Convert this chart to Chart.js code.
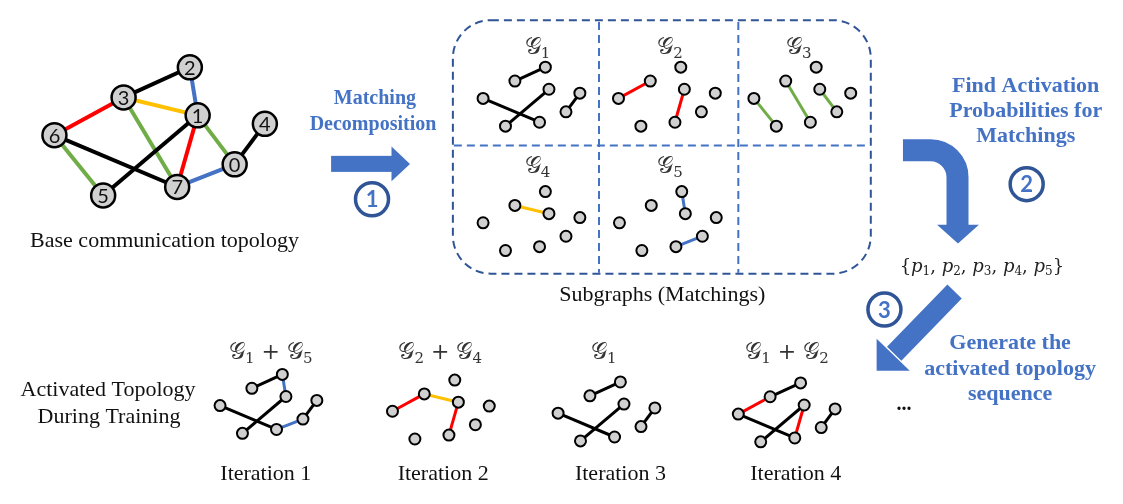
<!DOCTYPE html>
<html>
<head>
<meta charset="utf-8">
<script src="https://cdn.jsdelivr.net/npm/chart.js@4.4.1/dist/chart.umd.min.js"></script>
<style>
  html, body { margin: 0; padding: 0; background: #fff; }
  #wrap { width: 1123px; height: 504px; position: relative; }
</style>
</head>
<body>
<div id="wrap"><canvas id="fig"></canvas></div>
<script>
// Base communication topology: node ids and their positions
const nodeIds = [0, 1, 2, 3, 4, 5, 6, 7];
const baseX = [226, 188, 180, 112, 257, 91, 41, 167];
const baseY = [159, 107, 56, 88, 116, 192, 128, 183];

// Matching decomposition (edges of each subgraph)
const g1Edges = [[3, 2], [6, 7], [5, 1], [0, 4]];
const g2Edges = [[3, 6], [1, 7]];
const g3Edges = [[6, 5], [3, 7], [1, 0]];
const g4Edges = [[3, 1]];
const g5Edges = [[2, 1], [7, 0]];
const matchingEdges = [g1Edges, g2Edges, g3Edges, g4Edges, g5Edges];
const matchingSubs = ['1', '2', '3', '4', '5'];
const matchingColors = ['#000000', '#ff0000', '#70ad47', '#ffc000', '#4472c4'];

// Activated topology per iteration (which matchings were sampled)
const iterationLabels = ['Iteration 1', 'Iteration 2', 'Iteration 3', 'Iteration 4'];
const iterationMatchings = [[0, 4], [1, 3], [0], [0, 1]];

// where node 6 of each mini graph sits
const panelAnchorX = [481, 620, 759, 481, 621];
const panelAnchorY = [89, 89, 89, 221, 221];
const iterAnchorX = [211, 388, 558, 743];
const iterAnchorY = [415, 421, 423, 424];
const MINI = 0.46;

function miniPoint(i, ax, ay) {
    return { x: ax + MINI * (baseX[i] - baseX[6]), y: ay + MINI * (baseY[i] - baseY[6]) };
}
function basePoint(i) {
    return { x: baseX[i], y: baseY[i] };
}

function edgeSet(a, b, color, width) {
    return {
        data: [a, b], showLine: true, borderColor: color, borderWidth: width,
        pointRadius: 0, pointHoverRadius: 0, order: 2, clip: false
    };
}
function nodeSet(points, r, bw) {
    return {
        data: points, showLine: false, pointRadius: r, pointHoverRadius: r,
        backgroundColor: '#d0d0d0', borderColor: '#000', borderWidth: bw,
        pointBackgroundColor: '#d0d0d0', pointBorderColor: '#000', pointBorderWidth: bw,
        order: 0, clip: false
    };
}

const datasets = [];

// base graph
matchingEdges.forEach((edges, m) => {
    edges.forEach(([a, b]) => datasets.push(edgeSet(basePoint(a), basePoint(b), matchingColors[m], 4)));
});
datasets.push(nodeSet(nodeIds.map(basePoint), 12, 2.5));

// subgraph panels
matchingEdges.forEach((edges, m) => {
    const ax = panelAnchorX[m], ay = panelAnchorY[m];
    edges.forEach(([a, b]) => datasets.push(edgeSet(miniPoint(a, ax, ay), miniPoint(b, ax, ay), matchingColors[m], 3)));
    datasets.push(nodeSet(nodeIds.map(i => miniPoint(i, ax, ay)), 5.5, 2));
});

// iterations
iterationMatchings.forEach((ms, k) => {
    const ax = iterAnchorX[k], ay = iterAnchorY[k];
    ms.forEach(m => {
        matchingEdges[m].forEach(([a, b]) => datasets.push(edgeSet(miniPoint(a, ax, ay), miniPoint(b, ax, ay), matchingColors[m], 3)));
    });
    datasets.push(nodeSet(nodeIds.map(i => miniPoint(i, ax, ay)), 5.5, 2));
});

const BLUE = '#4472c4';
const DARK = '#2f5597';
const SERIF = '"Liberation Serif", "Times New Roman", serif';
const MATH = '"DejaVu Serif", serif';

// draws a row of pieces ({t, f, dy}) centred on cx
function drawPieces(ctx, pieces, cx, cy, color) {
    let w = 0;
    pieces.forEach(p => { ctx.font = p.f; w += ctx.measureText(p.t).width; });
    let x = cx - w / 2;
    ctx.fillStyle = color;
    ctx.textAlign = 'left';
    ctx.textBaseline = 'alphabetic';
    pieces.forEach(p => {
        ctx.font = p.f;
        ctx.fillText(p.t, x, cy + (p.dy || 0));
        x += ctx.measureText(p.t).width;
    });
}
function calG(sub) {
    return [{ t: '\u{1D4A2}', f: '23px ' + MATH }, { t: sub, f: '15px ' + MATH, dy: 4 }];
}

const decor = {
    id: 'decor',
    afterDatasetsDraw(chart) {
        const ctx = chart.ctx;
        const X = v => chart.scales.x.getPixelForValue(v);
        const Y = v => chart.scales.y.getPixelForValue(v);
        ctx.save();

        // node numbers of base graph
        ctx.fillStyle = '#111';
        ctx.font = '20px Lato, "Open Sans", sans-serif';
        ctx.textAlign = 'center';
        ctx.textBaseline = 'middle';
        nodeIds.forEach(i => ctx.fillText(String(i), X(baseX[i]), Y(baseY[i]) + 1));

        // plain captions
        const cap = (t, x, y) => {
            ctx.font = '22px ' + SERIF;
            ctx.fillStyle = '#111';
            ctx.textAlign = 'center';
            ctx.textBaseline = 'middle';
            ctx.fillText(t, X(x), Y(y));
        };
        cap('Base communication topology', 154, 241);
        cap('Subgraphs (Matchings)', 665, 298);
        cap('Activated Topology', 96, 399);
        cap('During Training', 97, 427);
        const iterX = [258, 440, 622, 802];
        iterationLabels.forEach((t, k) => cap(t, iterX[k], 488));
        ctx.font = 'bold 20px ' + SERIF;
        ctx.textBaseline = 'alphabetic';
        ctx.fillText('...', X(913), Y(420));

        // blue step labels
        const blue = (t, x, y, size) => {
            ctx.font = 'bold ' + size + 'px ' + SERIF;
            ctx.fillStyle = BLUE;
            ctx.textAlign = 'center';
            ctx.textBaseline = 'middle';
            ctx.fillText(t, X(x), Y(y));
        };
        blue('Matching', 370, 90, 20);
        blue('Decomposition', 368, 117, 20);
        blue('Find Activation', 1038, 76, 22);
        blue('Probabilities for', 1038, 103, 22);
        blue('Matchings', 1038, 129, 22);
        blue('Generate the', 1022, 349, 22);
        blue('activated topology', 1022, 376, 22);
        blue('sequence', 1022, 403, 22);

        // matching labels
        const labX = [537, 673, 805, 537, 673];
        const labY = [42, 42, 42, 168, 168];
        matchingSubs.forEach((s, m) => drawPieces(ctx, calG(s), X(labX[m]), Y(labY[m]), '#333'));
        const sumX = [263, 437, 605, 793];
        iterationMatchings.forEach((ms, k) => {
            let pieces = [];
            ms.forEach((m, j) => {
                if (j > 0) pieces.push({ t: ' + ', f: '22px ' + MATH });
                pieces = pieces.concat(calG(matchingSubs[m]));
            });
            drawPieces(ctx, pieces, X(sumX[k]), Y(366), '#333');
        });

        // probability set
        const ps = [{ t: '{', f: '18px ' + MATH }];
        ['1', '2', '3', '4', '5'].forEach((s, j) => {
            ps.push({ t: 'p', f: 'italic 18px ' + MATH });
            ps.push({ t: s, f: '12px ' + MATH, dy: 3 });
            if (j < 4) ps.push({ t: ', ', f: '18px ' + MATH });
        });
        ps.push({ t: '}', f: '18px ' + MATH });
        drawPieces(ctx, ps, X(993), Y(273), '#222');

        // dashed subgraph frame
        ctx.setLineDash([8, 5]);
        ctx.lineWidth = 2;
        ctx.strokeStyle = BLUE;
        ctx.beginPath();
        ctx.moveTo(X(600), Y(8)); ctx.lineTo(X(600), Y(274));
        ctx.moveTo(X(743), Y(8)); ctx.lineTo(X(743), Y(274));
        ctx.moveTo(X(451), Y(139)); ctx.lineTo(X(878), Y(139));
        ctx.stroke();
        ctx.strokeStyle = DARK;
        ctx.beginPath();
        ctx.roundRect(X(450), Y(6), X(879) - X(450), Y(275) - Y(6), 38);
        ctx.stroke();
        ctx.setLineDash([]);

        // arrows
        ctx.fillStyle = BLUE;
        ctx.strokeStyle = BLUE;
        ctx.fillRect(X(325), Y(150), X(389) - X(325), Y(167) - Y(150));
        ctx.beginPath();
        ctx.moveTo(X(387), Y(140)); ctx.lineTo(X(406), Y(158.5)); ctx.lineTo(X(387), Y(177));
        ctx.closePath(); ctx.fill();

        ctx.lineWidth = 22;
        ctx.lineCap = 'butt';
        ctx.beginPath();
        ctx.moveTo(X(912), Y(144));
        ctx.arcTo(X(968), Y(144), X(968), Y(190), 27);
        ctx.lineTo(X(968), Y(224));
        ctx.stroke();
        ctx.beginPath();
        ctx.moveTo(X(947), Y(223)); ctx.lineTo(X(990), Y(223)); ctx.lineTo(X(968.5), Y(243));
        ctx.closePath(); ctx.fill();

        ctx.lineWidth = 20;
        ctx.beginPath();
        ctx.moveTo(X(965), Y(294));
        ctx.lineTo(X(903), Y(360));
        ctx.stroke();
        ctx.beginPath();
        ctx.moveTo(X(885), Y(378)); ctx.lineTo(X(885), Y(344)); ctx.lineTo(X(919), Y(378));
        ctx.closePath(); ctx.fill();

        // circled step numbers
        const circ = (t, x, y) => {
            ctx.beginPath();
            ctx.arc(X(x), Y(y), 16.5, 0, Math.PI * 2);
            ctx.fillStyle = '#fff';
            ctx.fill();
            ctx.lineWidth = 3.5;
            ctx.strokeStyle = DARK;
            ctx.stroke();
            ctx.fillStyle = BLUE;
            ctx.font = 'bold 22px Lato, "Open Sans", sans-serif';
            ctx.textAlign = 'center';
            ctx.textBaseline = 'middle';
            ctx.fillText(t, X(x), Y(y) + 1);
        };
        circ('1', 367, 196);
        circ('2', 1039, 180);
        circ('3', 893, 313);

        ctx.restore();
    }
};

new Chart(document.getElementById('fig'), {
    type: 'scatter',
    data: { datasets: datasets },
    options: {
        responsive: true,
        maintainAspectRatio: false,
        animation: false,
        events: [],
        layout: { padding: 0 },
        plugins: { legend: { display: false }, tooltip: { enabled: false } },
        scales: {
            x: { type: 'linear', min: 0, max: 1123, display: false },
            y: { type: 'linear', min: 0, max: 504, reverse: true, display: false }
        }
    },
    plugins: [decor]
});
</script>
</body>
</html>
